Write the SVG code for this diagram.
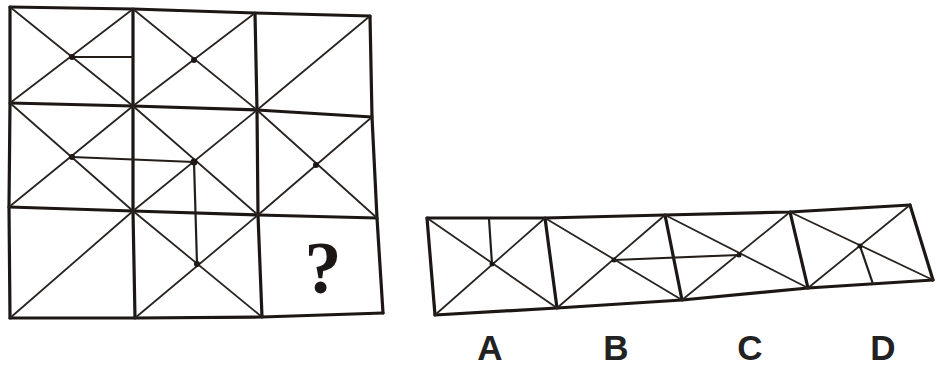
<svg xmlns="http://www.w3.org/2000/svg" width="936" height="367" viewBox="0 0 936 367">
<style>
.frame{fill:none;stroke:#1c1714;stroke-width:3.2;stroke-linejoin:round;stroke-linecap:round}
.diag{fill:none;stroke:#2a2420;stroke-width:1.8;stroke-linecap:round}
.bar{fill:none;stroke:#241e1a;stroke-width:2.2;stroke-linecap:round}
.dot{fill:#1c1714}
.lbl{font-family:"Liberation Sans",Arial,sans-serif;font-weight:bold;font-size:35px;fill:#222;text-anchor:middle}
.q{font-family:"Liberation Serif","Times New Roman",serif;font-weight:bold;font-size:74px;fill:#1c1714;text-anchor:middle}
</style>
<rect width="936" height="367" fill="#fff"/>
<g id="grid">
<polyline class="frame" points="10,7 133,9 255,13 370,16"/>
<polyline class="frame" points="10,103 133,106 257,110 372,117"/>
<polyline class="frame" points="9,207 133,211 258,215 377,218"/>
<polyline class="frame" points="10,318 135,318 262,317 383,313"/>
<polyline class="frame" points="10,7 10,103 9,207 10,318"/>
<polyline class="frame" points="133,9 133,106 133,211 135,318"/>
<polyline class="frame" points="255,13 257,110 258,215 262,317"/>
<polyline class="frame" points="370,16 372,117 377,218 383,313"/>
</g>
<g id="cell-r1c1">
<line class="diag" x1="10" y1="7" x2="133" y2="106"/>
<line class="diag" x1="10" y1="103" x2="133" y2="9"/>
<line class="bar" x1="72" y1="57" x2="133" y2="57"/>
<circle class="dot" cx="72" cy="57" r="3"/>
</g>
<g id="cell-r1c2">
<line class="diag" x1="133" y1="9" x2="257" y2="110"/>
<line class="diag" x1="133" y1="106" x2="255" y2="13"/>
<circle class="dot" cx="194" cy="60" r="3"/>
</g>
<g id="cell-r1c3">
<line class="diag" x1="257" y1="110" x2="370" y2="16"/>
</g>
<g id="cell-r2c1">
<line class="diag" x1="10" y1="103" x2="133" y2="211"/>
<line class="diag" x1="9" y1="207" x2="133" y2="106"/>
<circle class="dot" cx="72" cy="157" r="3"/>
</g>
<g id="cell-r2c2">
<line class="diag" x1="133" y1="106" x2="258" y2="215"/>
<line class="diag" x1="133" y1="211" x2="257" y2="110"/>
<circle class="dot" cx="194" cy="162" r="3.5"/>
</g>
<g id="cell-r2c3">
<line class="diag" x1="257" y1="110" x2="377" y2="218"/>
<line class="diag" x1="258" y1="215" x2="372" y2="117"/>
<circle class="dot" cx="316" cy="165" r="3"/>
</g>
<g id="cell-r3c1">
<line class="diag" x1="10" y1="318" x2="133" y2="211"/>
</g>
<g id="cell-r3c2">
<line class="diag" x1="133" y1="211" x2="262" y2="317"/>
<line class="diag" x1="135" y1="318" x2="258" y2="215"/>
<circle class="dot" cx="197" cy="264" r="3"/>
</g>
<g id="cell-r3c3">
<text class="q" x="323" y="293">?</text>
</g>
<g id="grid-bars">
<line class="bar" x1="72" y1="157" x2="194" y2="162"/>
<line class="bar" x1="194" y1="162" x2="197" y2="264"/>
</g>
<g id="options">
<polyline class="frame" points="427,218 545,218 665,215 790,212 910,205"/>
<polyline class="frame" points="435,315 557,308 682,300 808,288 933,280"/>
<line class="frame" x1="427" y1="218" x2="435" y2="315"/>
<line class="frame" x1="545" y1="218" x2="557" y2="308"/>
<line class="frame" x1="665" y1="215" x2="682" y2="300"/>
<line class="frame" x1="790" y1="212" x2="808" y2="288"/>
<line class="frame" x1="910" y1="205" x2="933" y2="280"/>
</g>
<g id="option-A">
<line class="diag" x1="427" y1="218" x2="557" y2="308"/>
<line class="diag" x1="435" y1="315" x2="545" y2="218"/>
<line class="bar" x1="489" y1="219" x2="492" y2="264"/>
<circle class="dot" cx="492" cy="264" r="2.5"/>
<text class="lbl" x="490" y="360">A</text>
</g>
<g id="option-B">
<line class="diag" x1="545" y1="218" x2="682" y2="300"/>
<line class="diag" x1="557" y1="308" x2="665" y2="215"/>
<circle class="dot" cx="614" cy="260" r="2.5"/>
<text class="lbl" x="616" y="360">B</text>
</g>
<g id="option-C">
<line class="diag" x1="665" y1="215" x2="808" y2="288"/>
<line class="diag" x1="682" y1="300" x2="790" y2="212"/>
<circle class="dot" cx="739" cy="255" r="2.5"/>
<text class="lbl" x="750" y="360">C</text>
</g>
<g id="option-D">
<line class="diag" x1="790" y1="212" x2="933" y2="280"/>
<line class="diag" x1="808" y1="288" x2="910" y2="205"/>
<line class="bar" x1="860" y1="246" x2="873" y2="284"/>
<circle class="dot" cx="860" cy="246" r="2.5"/>
<text class="lbl" x="883" y="360">D</text>
</g>
<g id="option-bars">
<line class="bar" x1="614" y1="260" x2="739" y2="255"/>
</g>
</svg>
